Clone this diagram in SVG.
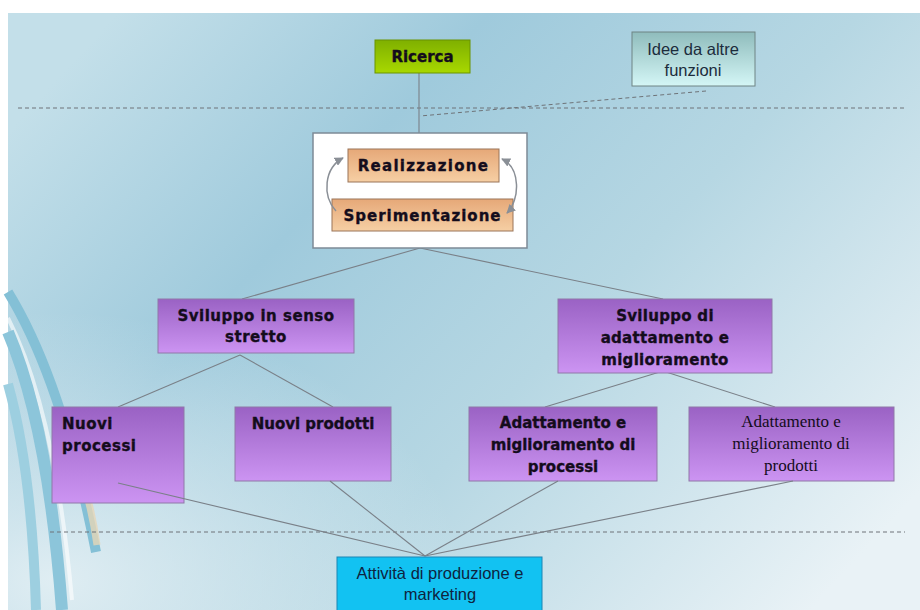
<svg xmlns="http://www.w3.org/2000/svg" width="920" height="610" viewBox="0 0 920 610">
<defs>
<linearGradient id="bg" x1="0" y1="0.2" x2="1" y2="0.8">
<stop offset="0" stop-color="#c3dfe9"/>
<stop offset="0.3" stop-color="#9fcadc"/>
<stop offset="0.6" stop-color="#b6d7e3"/>
<stop offset="1" stop-color="#e9f2f6"/>
</linearGradient>
<radialGradient id="bgl" cx="0.05" cy="0.95" r="0.45">
<stop offset="0" stop-color="#e6f1f5" stop-opacity="0.9"/>
<stop offset="1" stop-color="#e6f1f5" stop-opacity="0"/>
</radialGradient>
<linearGradient id="green" x1="0" y1="0" x2="0" y2="1">
<stop offset="0" stop-color="#7fb000"/>
<stop offset="1" stop-color="#a8d800"/>
</linearGradient>
<linearGradient id="teal" x1="0" y1="0" x2="0" y2="1">
<stop offset="0" stop-color="#8fbcbc"/>
<stop offset="1" stop-color="#d4f6f6"/>
</linearGradient>
<linearGradient id="orange" x1="0" y1="0" x2="0" y2="1">
<stop offset="0" stop-color="#e6a878"/>
<stop offset="1" stop-color="#f6cfa4"/>
</linearGradient>
<linearGradient id="purple" x1="0" y1="0" x2="0" y2="1">
<stop offset="0" stop-color="#9a62c4"/>
<stop offset="1" stop-color="#cc94f2"/>
</linearGradient>
<marker id="ah" viewBox="0 0 10 10" refX="9" refY="5" markerWidth="6" markerHeight="6" orient="auto-start-reverse">
<path d="M0 0 L10 5 L0 10 z" fill="#8a8f96"/>
</marker>
<style>
.pu{fill:url(#purple);stroke:#9078a8;stroke-width:1}
.or{fill:url(#orange);stroke:#9a7458;stroke-width:1}
.tb{font-family:"DejaVu Sans","Liberation Sans",sans-serif;font-weight:bold;font-size:15px;fill:#140c1c;stroke:#140c1c;stroke-width:0.35}
.tc{text-anchor:middle}
.ts{font-family:"Liberation Serif","Times New Roman",serif;font-size:17px;fill:#140c1c;text-anchor:middle}
.tn{font-family:"Liberation Sans",Arial,sans-serif;font-size:16.5px;text-anchor:middle}
.ln{fill:none;stroke:#7a8088;stroke-width:1.1}
.dl{fill:none;stroke:#6e7378;stroke-width:1;stroke-dasharray:4 3}
.loop{fill:none;stroke:#8a8f96;stroke-width:1.5}
</style>
</defs>

<rect x="0" y="0" width="920" height="610" fill="#ffffff"/>
<rect x="8" y="13" width="912" height="597" fill="url(#bg)"/>
<rect x="8" y="13" width="912" height="597" fill="url(#bgl)"/>

<g id="decor" fill="none">
<path d="M8 292 Q62 380 96 552" stroke="#84c0d6" stroke-width="10"/>
<path d="M8 318 Q55 410 72 600" stroke="#ffffff" stroke-width="4" opacity="0.6"/>
<path d="M8 332 Q48 425 62 610" stroke="#8cc5da" stroke-width="12"/>
<path d="M8 384 Q32 470 36 610" stroke="#9dcfe0" stroke-width="10"/>
<path d="M82 478 Q92 510 97 545" stroke="#e6d6b6" stroke-width="7" opacity="0.8"/>
</g>

<g id="connectors">
<path class="dl" d="M18 108 H907"/>
<path class="dl" d="M50 532 H905"/>
<path class="dl" d="M706 91 L420 116"/>
<path class="ln" d="M419 73 V133"/>
<path class="ln" d="M420 248 L242 299"/>
<path class="ln" d="M420 248 L663 299"/>
<path class="ln" d="M240 355 L118 407"/>
<path class="ln" d="M240 355 L333 407"/>
<path class="ln" d="M663 371 L545 407"/>
<path class="ln" d="M663 371 L775 407"/>
</g>

<g id="ricerca">
<rect x="375" y="40" width="95" height="33" fill="url(#green)" stroke="#6a9400" stroke-width="1"/>
<text class="tb tc" x="422.5" y="62" font-size="16">Ricerca</text>
</g>

<g id="idee">
<rect x="632" y="32" width="123" height="54" fill="url(#teal)" stroke="#6f8484" stroke-width="1"/>
<text class="tn" x="693" y="55" fill="#1c2c3c">Idee da altre</text>
<text class="tn" x="693" y="76" fill="#1c2c3c">funzioni</text>
</g>

<g id="ciclo">
<rect x="313" y="133" width="214" height="115" fill="#ffffff" stroke="#7d8a96" stroke-width="1.5"/>
<g id="realizzazione">
<rect class="or" x="348" y="149" width="151" height="33"/>
<text class="tb tc" x="423.5" y="171" font-size="14" letter-spacing="1.3">Realizzazione</text>
</g>
<g id="sperimentazione">
<rect class="or" x="332" y="199" width="181" height="32"/>
<text class="tb tc" x="422.5" y="221" font-size="14" letter-spacing="1">Sperimentazione</text>
</g>
<path class="loop" d="M336 211 C322 196 324 168 343 158" marker-end="url(#ah)"/>
<path class="loop" d="M502 159 C521 168 520 200 507 213" marker-start="url(#ah)" marker-end="url(#ah)"/>
</g>

<g id="sviluppo-stretto">
<rect class="pu" x="158" y="299" width="196" height="54"/>
<text class="tb tc" x="256" y="321" letter-spacing="0.5">Sviluppo in senso</text>
<text class="tb tc" x="256" y="342" letter-spacing="0.5">stretto</text>
</g>

<g id="sviluppo-adattamento">
<rect class="pu" x="558" y="299" width="214" height="74"/>
<text class="tb tc" x="665" y="321" letter-spacing="0.3">Sviluppo di</text>
<text class="tb tc" x="665" y="343" letter-spacing="0.3">adattamento e</text>
<text class="tb tc" x="665" y="365" letter-spacing="0.3">miglioramento</text>
</g>

<g id="nuovi-processi">
<rect class="pu" x="52" y="407" width="132" height="96"/>
<text class="tb" x="62" y="429" letter-spacing="0.5">Nuovi</text>
<text class="tb" x="62" y="451" letter-spacing="0.5">processi</text>
</g>

<g id="nuovi-prodotti">
<rect class="pu" x="235" y="407" width="156" height="74"/>
<text class="tb tc" x="313" y="429">Nuovi prodotti</text>
</g>

<g id="adattamento-processi">
<rect class="pu" x="469" y="407" width="188" height="74"/>
<text class="tb tc" x="563" y="428">Adattamento e</text>
<text class="tb tc" x="563" y="450">miglioramento di</text>
<text class="tb tc" x="563" y="472">processi</text>
</g>

<g id="adattamento-prodotti">
<rect class="pu" x="689" y="407" width="205" height="74"/>
<text class="ts" x="791" y="427">Adattamento e</text>
<text class="ts" x="791" y="449">miglioramento di</text>
<text class="ts" x="791" y="471">prodotti</text>
</g>

<g id="connectors-bottom">
<path class="ln" d="M118 483 L425 556"/>
<path class="ln" d="M330 481 L425 556"/>
<path class="ln" d="M558 481 L425 556"/>
<path class="ln" d="M793 481 L425 556"/>
</g>

<g id="attivita">
<rect x="337" y="557" width="205" height="60" fill="#12c2f2" stroke="#1a86b4" stroke-width="1"/>
<text class="tn" x="440" y="579" fill="#0e2440">Attività di produzione e</text>
<text class="tn" x="440" y="600" fill="#0e2440">marketing</text>
</g>
</svg>
